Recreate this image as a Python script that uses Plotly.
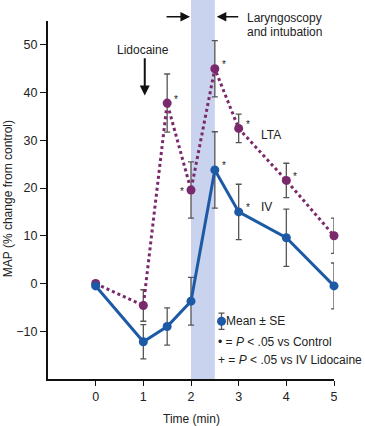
import plotly.graph_objects as go

# ---- data ----
time = [0, 1, 1.5, 2, 2.5, 3, 4, 5]
iv_mean = [-0.5, -12.2, -9.0, -3.7, 23.8, 15.0, 9.6, -0.5]
iv_se = [0.0, 3.6, 3.9, 5.0, 8.0, 5.8, 6.0, 4.8]
lta_mean = [0.0, -4.6, 37.8, 19.6, 45.0, 32.5, 21.6, 10.0]
lta_se = [0.0, 3.3, 6.1, 5.9, 5.9, 3.0, 3.6, 3.7]
iv_sig = [False, False, False, False, True, True, False, False]
lta_sig = [False, False, True, True, True, True, True, False]
x_ticks = [0, 1, 2, 3, 4, 5]
y_ticks = [-10, 0, 10, 20, 30, 40, 50]
band = [2, 2.5]

BLUE = "#1d5aa6"
PURPLE = "#7a2a6c"
GRAY = "#555555"
FONT = "Liberation Sans, Arial, sans-serif"

fig = go.Figure()

fig.add_shape(type="rect", x0=band[0], x1=band[1], y0=0, y1=1.07,
              xref="x", yref="paper",
              fillcolor="#c9d3ee", line_width=0, layer="below")

fig.add_trace(go.Scatter(
    x=time, y=lta_mean, mode="lines+markers",
    line=dict(color=PURPLE, width=3, dash="dot"),
    marker=dict(color=PURPLE, size=9),
    error_y=dict(type="data", array=lta_se, color=GRAY, thickness=1.3, width=3),
    cliponaxis=False, showlegend=False, hoverinfo="skip"))

fig.add_trace(go.Scatter(
    x=time, y=iv_mean, mode="lines+markers",
    line=dict(color=BLUE, width=3),
    marker=dict(color=BLUE, size=9),
    error_y=dict(type="data", array=iv_se, color=GRAY, thickness=1.3, width=3),
    cliponaxis=False, showlegend=False, hoverinfo="skip"))

# legend marker (Mean ± SE)
legend_x = [2.64]
legend_y = [-7.9]
fig.add_trace(go.Scatter(
    x=legend_x, y=legend_y, mode="markers",
    marker=dict(color=BLUE, size=9),
    error_y=dict(type="data", array=[1.7], color=GRAY, thickness=1.3, width=3),
    cliponaxis=False, showlegend=False, hoverinfo="skip"))

ann = []
# asterisks
for t, m, s in zip(time, lta_mean, lta_sig):
    if s:
        left = (t == 2)
        ann.append(dict(x=t, y=m, text="*", showarrow=False,
                        xshift=-9 if left else 9, yshift=-2 if left else 4,
                        font=dict(size=10, color="#222")))
for t, m, s in zip(time, iv_mean, iv_sig):
    if s:
        ann.append(dict(x=t, y=m, text="*", showarrow=False, xshift=9, yshift=4,
                        font=dict(size=10, color="#222")))

ann += [
    dict(x=1.0, y=49.0, text="Lidocaine", showarrow=False, yanchor="middle",
         font=dict(size=12)),
    dict(x=1.03, y=39.4, ax=1.03, ay=47.5, axref="x", ayref="y", text="",
         showarrow=True, arrowhead=2, arrowsize=1, arrowwidth=2, arrowcolor="#111"),
    dict(x=1.98, y=1.012, yref="paper", ax=-25, ay=0, text="",
         showarrow=True, arrowhead=2, arrowsize=1.2, arrowwidth=1.6, arrowcolor="#111"),
    dict(x=2.54, y=1.012, yref="paper", ax=23, ay=0, text="",
         showarrow=True, arrowhead=2, arrowsize=1.2, arrowwidth=1.6, arrowcolor="#111"),
    dict(x=3.14, y=(379 - 18) / 358, yref="paper", text="Laryngoscopy", showarrow=False,
         xanchor="left", yanchor="middle", font=dict(size=12)),
    dict(x=3.14, y=(379 - 32) / 358, yref="paper", text="and intubation", showarrow=False,
         xanchor="left", yanchor="middle", font=dict(size=12)),
    dict(x=3.42, y=31.2, text="LTA", showarrow=False, xanchor="left", font=dict(size=12)),
    dict(x=3.42, y=16.1, text="IV", showarrow=False, xanchor="left", font=dict(size=12)),
    dict(x=2.7, y=-7.9, text="Mean ± SE", showarrow=False, xanchor="left", font=dict(size=12)),
    dict(x=2.53, y=-12.2, text="• = <i>P</i> < .05 vs Control", showarrow=False,
         xanchor="left", font=dict(size=12)),
    dict(x=2.53, y=-16.0, text="+ = <i>P</i> < .05 vs IV Lidocaine", showarrow=False,
         xanchor="left", font=dict(size=12)),
    dict(x=-0.14, y=0.505, xref="paper", yref="paper", text="MAP (% change from control)",
         textangle=-90, showarrow=False, xanchor="center", yanchor="middle",
         font=dict(size=12)),
    dict(x=0.5, y=-0.112, xref="paper", yref="paper", text="Time (min)",
         showarrow=False, xanchor="center", yanchor="middle", font=dict(size=12)),
]

fig.update_layout(
    width=365, height=426,
    margin=dict(l=48, r=31, t=21, b=47),
    plot_bgcolor="white", paper_bgcolor="white",
    font=dict(family=FONT, size=12, color="#222"),
    annotations=ann,
    hovermode=False,
    xaxis=dict(range=[-1, 5], tickvals=x_ticks, showgrid=False, zeroline=False,
               showline=True, linecolor="#111", linewidth=2, ticks="outside",
               ticklen=5, tickcolor="#111", tickfont=dict(size=12.5)),
    yaxis=dict(range=[-20, 55], tickvals=y_ticks, ticktext=[str(v).replace("-", "−") for v in y_ticks],
               showgrid=False, zeroline=False,
               showline=True, linecolor="#111", linewidth=2, ticks="outside",
               ticklen=6, tickcolor="#111", tickfont=dict(size=12.5)),
)

fig.write_html("out.html", config={"displayModeBar": False},
               post_script="document.body.style.margin='0';document.body.style.padding='0';")
